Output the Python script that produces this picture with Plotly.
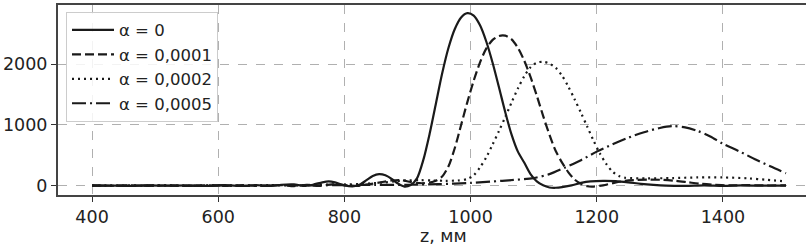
import plotly.graph_objects as go

# ---- data ----
z_a0 = [400, 430, 460, 490, 520, 550, 580, 610, 640, 660, 680, 700, 720, 735, 750, 765, 775, 785, 800, 815,
        825, 835, 845, 855, 865, 875, 885, 895, 905, 915, 925, 935, 945, 955, 965, 975, 985, 995, 1005, 1015,
        1025, 1035, 1045, 1055, 1065, 1075, 1085, 1095, 1105, 1115, 1125, 1135, 1145, 1160, 1175, 1190, 1210,
        1230, 1250, 1270, 1290, 1310, 1340, 1370, 1400, 1430, 1460, 1500]
v_a0 = [0, 2, -3, 4, -2, 5, -4, 8, -5, 10, -6, 15, 20, -5, 15, 55, 70, 55, 5, -10,
        20, 90, 160, 190, 170, 110, 35, -15, 10, 120, 420, 850, 1350, 1850, 2270, 2580, 2770, 2840, 2800, 2640,
        2370, 2020, 1620, 1210, 840, 560, 380, 190, 70, 5, -30, -35, -25, 5, 45, 70, 80,
        75, 55, 30, 12, 0, -5, 5, -3, 4, 0, 2]

z_a1 = [400, 430, 460, 490, 520, 550, 580, 610, 640, 670, 700, 720, 740, 760, 780, 800, 820, 840, 860, 875,
        890, 905, 920, 935, 945, 955, 965, 975, 985, 995, 1005, 1015, 1025, 1035, 1045, 1055, 1065, 1075, 1085,
        1095, 1105, 1115, 1125, 1135, 1145, 1155, 1165, 1175, 1185, 1195, 1210, 1225, 1245, 1265, 1285, 1305,
        1325, 1345, 1365, 1385, 1410, 1440, 1470, 1500]
v_a1 = [3, -2, 4, -3, 5, -4, 6, -5, 8, -6, 10, -8, 15, -5, 20, 10, -5, 25, 60, 85,
        90, 60, 40, 50, 80, 150, 320, 620, 1000, 1380, 1730, 2030, 2260, 2400, 2465, 2470, 2410, 2270, 2060,
        1790, 1480, 1150, 840, 570, 380, 220, 100, 30, -10, -15, 5, 40, 80, 95, 100, 95,
        80, 55, 30, 15, 5, 8, 3, 5]

z_a2 = [400, 440, 480, 520, 560, 600, 640, 680, 720, 760, 800, 830, 860, 880, 900, 920, 940, 960, 980, 995,
        1005, 1015, 1025, 1035, 1045, 1055, 1065, 1075, 1085, 1095, 1105, 1115, 1125, 1135, 1145, 1155, 1165,
        1175, 1185, 1195, 1205, 1215, 1225, 1235, 1245, 1280, 1320, 1360, 1400, 1440, 1470, 1500]
v_a2 = [0, 3, -2, 4, -3, 6, -2, 10, 5, 15, 20, 30, 50, 70, 85, 90, 85, 80, 85, 110,
        170, 300, 470, 680, 900, 1130, 1370, 1600, 1800, 1950, 2025, 2040, 2010, 1940, 1810, 1630, 1420,
        1200, 970, 740, 530, 360, 230, 160, 130, 120, 125, 135, 135, 120, 95, 70]

z_a5 = [400, 450, 500, 550, 600, 650, 700, 750, 800, 850, 900, 950, 1000, 1050, 1100, 1125, 1150, 1175,
        1200, 1225, 1250, 1275, 1300, 1320, 1340, 1360, 1380, 1400, 1425, 1450, 1475, 1500]
v_a5 = [2, -2, 4, -3, 5, -4, 8, 5, 10, 12, 15, 25, 45, 80, 125, 190, 300, 420,
        560, 680, 790, 880, 950, 980, 960, 900, 810, 690, 570, 440, 320, 205]

series_names = ["α = 0", "α = 0,0001", "α = 0,0002", "α = 0,0005"]
x_ticks = [400, 600, 800, 1000, 1200, 1400]
y_ticks = [0, 1000, 2000]
x_title = "z, мм"

# ---- figure ----
font_family = "DejaVu Sans"
ink = "#1a1a1a"
txt = "#222222"
dashes = ["solid", "9px,4px", "2px,4px", "14px,4px,2px,4px"]
xs = [z_a0, z_a1, z_a2, z_a5]
ys = [v_a0, v_a1, v_a2, v_a5]

fig = go.Figure()
for name, x, y, d in zip(series_names, xs, ys, dashes):
    fig.add_trace(go.Scatter(x=x, y=y, name=name, mode="lines",
                             line=dict(color=ink, width=2.2, dash=d, shape="spline", smoothing=0.8)))

fig.update_layout(
    width=806, height=248,
    margin=dict(l=58, r=0, t=5, b=53),
    paper_bgcolor="white", plot_bgcolor="white",
    font=dict(family=font_family, size=17.5, color=txt),
    showlegend=True,
    legend=dict(x=0.0107, y=0.965, xanchor="left", yanchor="top", itemwidth=42,
                bgcolor="rgba(255,255,255,0.85)", bordercolor="#cccccc", borderwidth=1,
                font=dict(family=font_family, size=16.5, color=txt)),
    annotations=[dict(text=x_title, xref="paper", yref="paper", x=0.515, y=-0.216,
                      xanchor="center", yanchor="middle", showarrow=False,
                      font=dict(family=font_family, size=17.5, color=txt))],
)
fig.update_xaxes(range=[346, 1531.7], tickvals=x_ticks, ticks="outside", ticklen=5, tickwidth=1,
                 tickcolor="#333333", showline=True, linecolor="#444444", linewidth=2, mirror=True,
                 showgrid=True, gridcolor="#b0b0b0", griddash="dash", gridwidth=1, zeroline=False)
fig.update_yaxes(range=[-154, 2975], tickvals=y_ticks, ticks="outside", ticklen=5, tickwidth=1,
                 tickcolor="#333333", showline=True, linecolor="#444444", linewidth=2, mirror=False,
                 showgrid=True, gridcolor="#b0b0b0", griddash="dash", gridwidth=1, zeroline=False)

fig.write_html("out.html", config={"displayModeBar": False},
               post_script="document.body.style.margin='0';document.body.style.padding='0';")
